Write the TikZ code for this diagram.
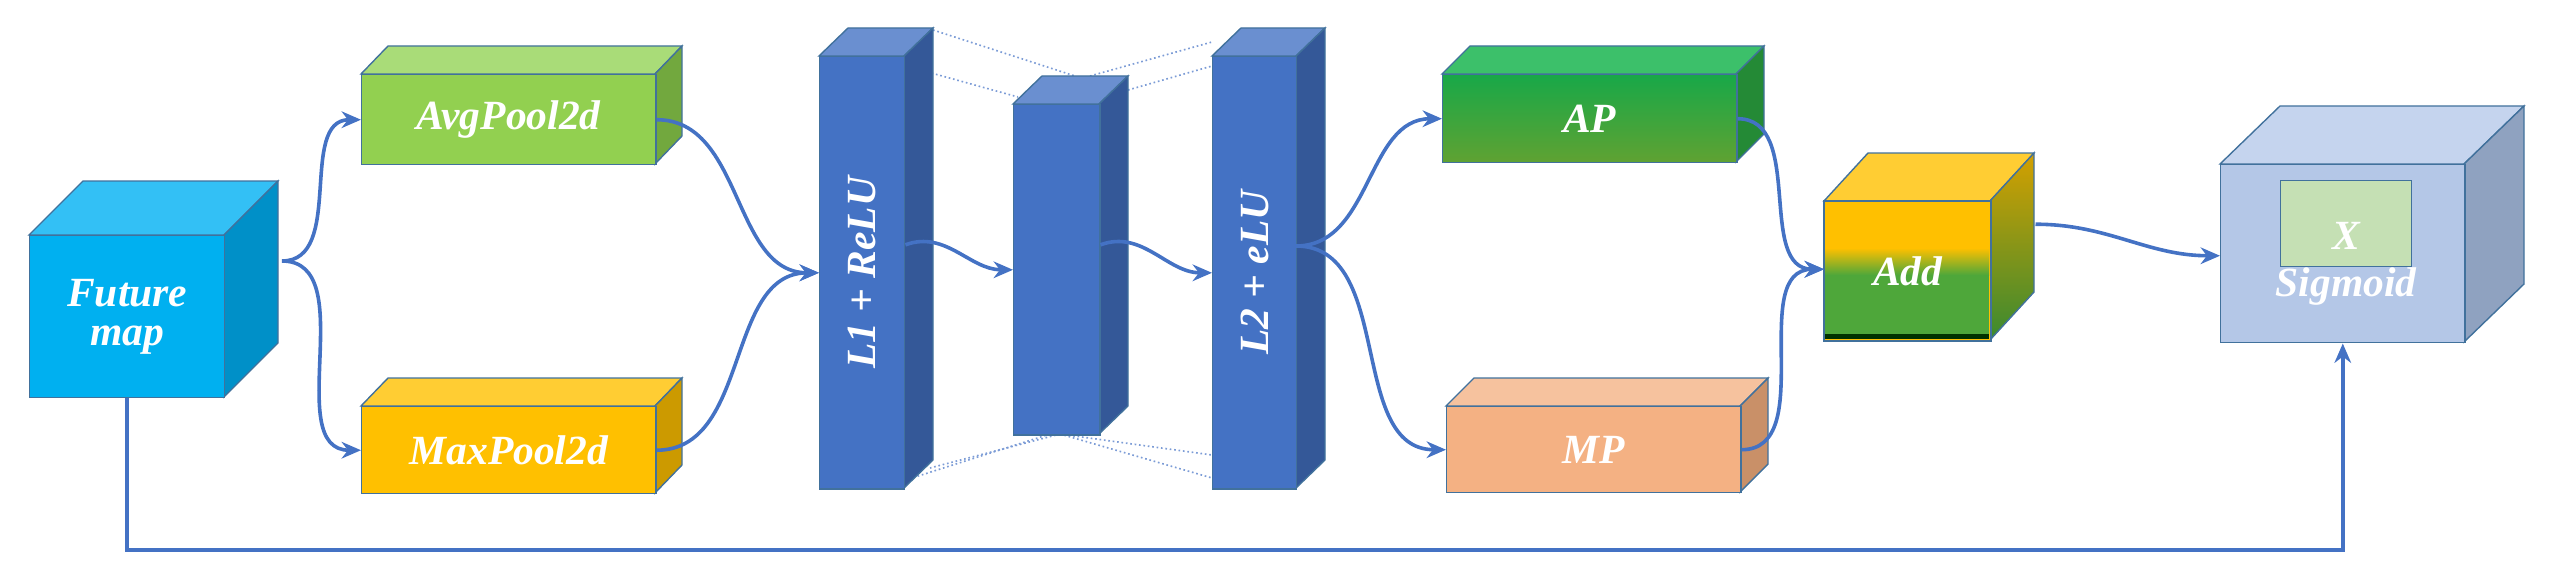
\documentclass[tikz,border=0pt]{standalone}
\usepackage{fontspec}
\setmainfont{Liberation Serif}
\usetikzlibrary{arrows.meta,calc,shapes.geometric}
\definecolor{edge}{HTML}{41719C}
\definecolor{arr}{HTML}{4472C4}
\definecolor{cfmF}{HTML}{00B0F0}\definecolor{cfmT}{HTML}{33C0F5}\definecolor{cfmS}{HTML}{0090C8}
\definecolor{cavF}{HTML}{92D050}\definecolor{cavT}{HTML}{A9DC78}\definecolor{cavS}{HTML}{72A83E}
\definecolor{cmxF}{HTML}{FFC000}\definecolor{cmxT}{HTML}{FFCD33}\definecolor{cmxS}{HTML}{CC9A00}
\definecolor{cbaF}{HTML}{4472C4}\definecolor{cbaT}{HTML}{6A8FD0}\definecolor{cbaS}{HTML}{345898}
\definecolor{capF1}{HTML}{18A848}\definecolor{capF2}{HTML}{60A232}\definecolor{capT}{HTML}{3CC06A}\definecolor{capS}{HTML}{248A36}
\definecolor{cmpF}{HTML}{F4B183}\definecolor{cmpT}{HTML}{F6C29E}\definecolor{cmpS}{HTML}{C99068}
\definecolor{cadY}{HTML}{FFC000}\definecolor{cadT}{HTML}{FFCD33}\definecolor{cadS1}{HTML}{D4A000}\definecolor{cadS2}{HTML}{3A8A30}\definecolor{cadG}{HTML}{4EA73A}
\definecolor{csgF}{HTML}{B4C7E7}\definecolor{csgT}{HTML}{C5D4EE}\definecolor{csgS}{HTML}{8FA2C0}
\definecolor{ccyl}{HTML}{C5E0B4}
\tikzset{
 fmF/.style={fill=cfmF}, fmT/.style={fill=cfmT}, fmS/.style={fill=cfmS},
 avF/.style={fill=cavF}, avT/.style={fill=cavT}, avS/.style={fill=cavS},
 mxF/.style={fill=cmxF}, mxT/.style={fill=cmxT}, mxS/.style={fill=cmxS},
 baF/.style={fill=cbaF}, baT/.style={fill=cbaT}, baS/.style={fill=cbaS},
 apF/.style={top color=capF1,bottom color=capF2}, apT/.style={fill=capT}, apS/.style={fill=capS},
 mpF/.style={fill=cmpF}, mpT/.style={fill=cmpT}, mpS/.style={fill=cmpS},
 adF/.style={fill=cadY}, adT/.style={fill=cadT}, adS/.style={top color=cadS1,bottom color=cadS2},
 sgF/.style={fill=csgF}, sgT/.style={fill=csgT}, sgS/.style={fill=csgS},
 lbl/.style={text=white,font=\fontsize{30}{32}\selectfont\bfseries\itshape},
 con/.style={draw=arr,line width=2.6pt,-{Stealth[length=14pt,width=12pt]}},
 dots/.style={draw=arr!70,line width=1.2pt,dotted},
 fc/.style={draw=edge,line width=1pt,inner sep=0pt,anchor=north west}
}
\newcommand\cub[8]{%
 \path[#1T,draw=edge,line width=1pt] (#2,#3)--++(#6,#7)--(#4+#6,#3+#7)--(#4,#3)--cycle;
 \path[#1S,draw=edge,line width=1pt] (#4,#3)--++(#6,#7)--(#4+#6,#5+#7)--(#4,#5)--cycle;
 \pgfmathsetmacro\ww{(#4-#2)*0.7227}\pgfmathsetmacro\hh{(#5-#3)*0.7227}%
 \node[fc,#1F,minimum width=\ww pt,minimum height=\hh pt] (#1) at (#2,#3) {};
 \node[lbl,align=center] at (#1.center) {#8};}
\begin{document}
\begin{tikzpicture}[x=0.01in,y=-0.01in]
\useasboundingbox (0,0) rectangle (2554,584);
% dotted guides
\draw[dots] (933,30)--(1075,76); \draw[dots] (906,66)--(1018,97);
\draw[dots] (1090,76)--(1212,42); \draw[dots] (1128,90)--(1212,66);
\draw[dots] (1050,434)--(912,478); \draw[dots] (1060,434)--(930,468);
\draw[dots] (1060,434)--(1212,455); \draw[dots] (1060,434)--(1212,478);
\cub{fm}{29}{235}{224}{397}{54}{-54}{Future\\[-4pt]map}
\cub{av}{361}{74}{655}{164}{27}{-28}{AvgPool2d}
\cub{mx}{361}{406}{655}{493}{27}{-28}{MaxPool2d}
\cub{ba}{819}{56}{904}{488}{29}{-28}{}
\node[lbl,rotate=90] at (ba.center) {L1 + ReLU};
\path[baT,draw=edge,line width=1pt] (1013,104)--++(29,-28)--(1128,76)--(1099,104)--cycle;
\path[baS,draw=edge,line width=1pt] (1099,104)--++(29,-28)--(1128,406)--(1099,434)--cycle;
\node[fc,baF,minimum width=62.2pt,minimum height=238.5pt] (mid) at (1013,104) {};
\path[baT,draw=edge,line width=1pt] (1212,56)--++(29,-28)--(1325,28)--(1296,56)--cycle;
\path[baS,draw=edge,line width=1pt] (1296,56)--++(29,-28)--(1325,460)--(1296,488)--cycle;
\node[fc,baF,minimum width=60.7pt,minimum height=312.2pt] (l2) at (1212,56) {};
\node[lbl,rotate=90] at (l2.center) {L2 + eLU};
\cub{ap}{1442}{74}{1736}{162}{28}{-28}{AP}
\cub{mp}{1446}{406}{1740}{492}{28}{-28}{MP}
\cub{ad}{1824}{201}{1990}{340}{44}{-48}{}
\shade[top color=cadY,bottom color=cadG] (1825,248) rectangle (1989,275);
\fill[cadG] (1825,275) rectangle (1989,334);
\fill[black!80!green] (1825,334) rectangle (1989,339);
\draw[edge,line width=1pt] (ad.north west) rectangle (ad.south east);
\node[lbl] at (ad.center) {Add};
\cub{sg}{2220}{164}{2464}{342}{60}{-58}{}
\node[cylinder,shape border rotate=90,aspect=0.35,draw=edge,line width=1pt,fill=ccyl,minimum width=95pt,minimum height=62pt,inner sep=0pt] (cyl) at (2346,224) {};
\node[lbl] at (2346,236) {X};
\node[lbl] at (2346,287) {Sigmoid};
% connectors
\coordinate (fo) at (282,261);
\draw[con] (fo) to[out=0,in=180] (av.west);
\draw[con] (fo) to[out=0,in=180] (mx.west);
\draw[con] (av.east) to[out=0,in=180] (ba.west);
\draw[con] (mx.east) to[out=0,in=180] (ba.west);
\draw[con] ($(ba.east)+(0,-28)$) to[out=20,in=180] (mid.west);
\draw[con] ($(mid.east)+(0,-25)$) to[out=20,in=180] (l2.west);
\coordinate (lo) at (1296,246);
\draw[con] (lo) to[out=0,in=180] (ap.west);
\draw[con] (lo) to[out=0,in=180] (mp.west);
\draw[con] (ap.east) to[out=0,in=180] ($(ad.west)-(0,2)$);
\draw[con] (mp.east) to[out=0,in=180] ($(ad.west)-(0,2)$);
\draw[con] ($(ad.east)+(44,-47)$) to[out=0,in=180] ($(sg.west)+(0,2)$);
\coordinate (bot) at (0,550);
\draw[con] (fm.south) -- (fm.south |- bot) -| (sg.south);
\end{tikzpicture}
\end{document}
